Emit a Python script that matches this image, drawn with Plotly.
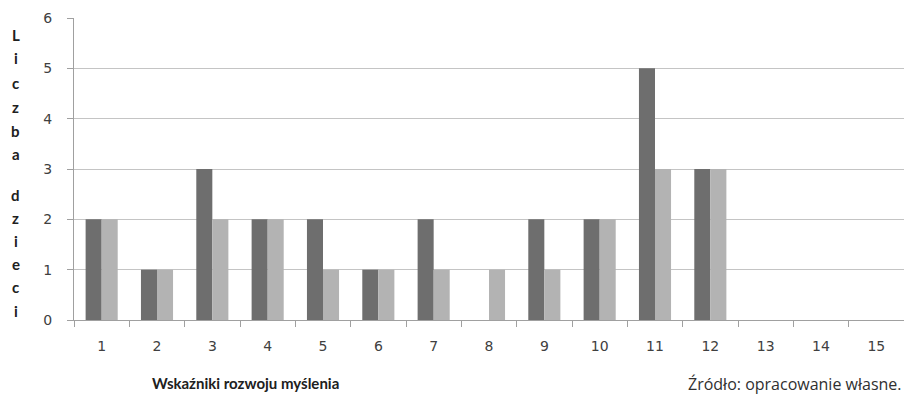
import plotly.graph_objects as go

categories = ["1", "2", "3", "4", "5", "6", "7", "8", "9", "10", "11", "12", "13", "14", "15"]
series_a = [2, 1, 3, 2, 2, 1, 2, 0, 2, 2, 5, 3, 0, 0, 0]
series_b = [2, 1, 2, 2, 1, 1, 1, 1, 1, 2, 3, 3, 0, 0, 0]
y_letters = ["L", "i", "c", "z", "b", "a", "", "d", "z", "i", "e", "c", "i"]

fig = go.Figure()
fig.add_trace(go.Bar(x=categories, y=series_a, marker=dict(color="#6e6e6e", line=dict(width=0)), name="A"))
fig.add_trace(go.Bar(x=categories, y=series_b, marker=dict(color="#b3b3b3", line=dict(width=0)), name="B"))

W, H = 904, 394
L, R, T, B = 74, 0, 18, 74
PW, PH = W - L - R, H - T - B


def px_x(px):
    return (px - L) / PW


def px_y(py):
    return 1 - (py - T) / PH


fig.update_layout(
    width=W, height=H,
    margin=dict(l=L, r=R, t=T, b=B),
    paper_bgcolor="white", plot_bgcolor="white",
    barmode="group", bargap=0.42, bargroupgap=0,
    showlegend=False,
    font=dict(family="DejaVu Sans", color="#404040"),
)
fig.update_xaxes(
    type="category", tickson="boundaries", ticks="outside", ticklen=6,
    tickcolor="#a0a0a0", showline=True, linecolor="#a0a0a0", linewidth=1,
    showgrid=False, tickfont=dict(size=14, family="DejaVu Sans", color="#404040"),
    ticklabelstandoff=13,
)
fig.update_yaxes(
    range=[0, 6], dtick=1, showgrid=True, gridcolor="#c4c4c4", gridwidth=1,
    showline=True, linecolor="#a0a0a0", linewidth=1, ticks="outside", ticklen=6,
    tickcolor="#a0a0a0", zeroline=False,
    tickfont=dict(size=14, family="DejaVu Sans", color="#404040"),
    ticklabelstandoff=12,
)

ys_px = [35, 58, 83, 107, 131, 154, None, 195, 218, 241, 264, 287, 311]
for ch, ypx in zip(y_letters, ys_px):
    if not ch:
        continue
    fig.add_annotation(text="<b>%s</b>" % ch, xref="paper", yref="paper",
                       x=px_x(16), y=px_y(ypx),
                       xanchor="center", yanchor="middle", showarrow=False,
                       font=dict(family="Lato", size=15, color="#202020"))

fig.add_annotation(text="<b>Wskaźniki rozwoju myślenia</b>", xref="paper", yref="paper",
                   x=px_x(245), y=px_y(383),
                   xanchor="center", yanchor="middle", showarrow=False,
                   font=dict(family="Lato", size=15, color="#202020"))
fig.add_annotation(text="Źródło: opracowanie własne.", xref="paper", yref="paper",
                   x=px_x(904), y=px_y(384),
                   xanchor="right", yanchor="middle", showarrow=False,
                   font=dict(family="Open Sans", size=16, color="#303030"))

fig.write_html(
    "out.html",
    config={"displayModeBar": False},
    post_script="document.body.style.margin='0';document.body.style.overflow='hidden';",
)
